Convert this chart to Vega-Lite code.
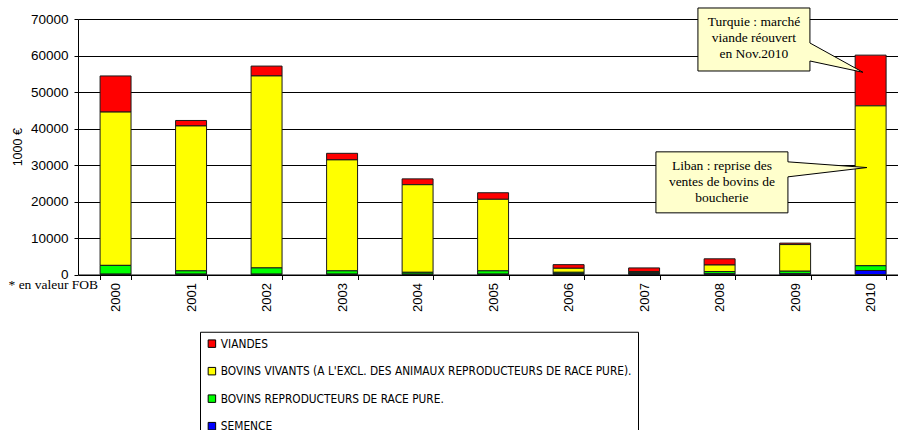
{
  "$schema": "https://vega.github.io/schema/vega-lite/v6.json",
  "width": 820,
  "height": 255.5,
  "autosize": {"type": "none"},
  "padding": {"left": 78, "top": 19, "right": 0, "bottom": 155.5},
  "background": "white",
  "config": {
    "view": {"stroke": null},
    "font": "Liberation Sans",
    "axis": {"labelFont": "Liberation Sans", "titleFont": "Liberation Sans", "labelColor": "#000", "titleColor": "#000"}
  },
  "datasets": {
    "bars": [
      {"year": "2000", "serie": "VIANDES", "k": 4, "value": 9900},
      {"year": "2000", "serie": "BOVINS VIVANTS (A L'EXCL. DES ANIMAUX REPRODUCTEURS DE RACE PURE).", "k": 3, "value": 42000},
      {"year": "2000", "serie": "BOVINS REPRODUCTEURS DE RACE PURE.", "k": 2, "value": 2400},
      {"year": "2000", "serie": "SEMENCE", "k": 1, "value": 100},
      {"year": "2001", "serie": "VIANDES", "k": 4, "value": 1500},
      {"year": "2001", "serie": "BOVINS VIVANTS (A L'EXCL. DES ANIMAUX REPRODUCTEURS DE RACE PURE).", "k": 3, "value": 39700},
      {"year": "2001", "serie": "BOVINS REPRODUCTEURS DE RACE PURE.", "k": 2, "value": 900},
      {"year": "2001", "serie": "SEMENCE", "k": 1, "value": 100},
      {"year": "2002", "serie": "VIANDES", "k": 4, "value": 2700},
      {"year": "2002", "serie": "BOVINS VIVANTS (A L'EXCL. DES ANIMAUX REPRODUCTEURS DE RACE PURE).", "k": 3, "value": 52600},
      {"year": "2002", "serie": "BOVINS REPRODUCTEURS DE RACE PURE.", "k": 2, "value": 1700},
      {"year": "2002", "serie": "SEMENCE", "k": 1, "value": 100},
      {"year": "2003", "serie": "VIANDES", "k": 4, "value": 1800},
      {"year": "2003", "serie": "BOVINS VIVANTS (A L'EXCL. DES ANIMAUX REPRODUCTEURS DE RACE PURE).", "k": 3, "value": 30400},
      {"year": "2003", "serie": "BOVINS REPRODUCTEURS DE RACE PURE.", "k": 2, "value": 900},
      {"year": "2003", "serie": "SEMENCE", "k": 1, "value": 100},
      {"year": "2004", "serie": "VIANDES", "k": 4, "value": 1600},
      {"year": "2004", "serie": "BOVINS VIVANTS (A L'EXCL. DES ANIMAUX REPRODUCTEURS DE RACE PURE).", "k": 3, "value": 24000},
      {"year": "2004", "serie": "BOVINS REPRODUCTEURS DE RACE PURE.", "k": 2, "value": 500},
      {"year": "2004", "serie": "SEMENCE", "k": 1, "value": 100},
      {"year": "2005", "serie": "VIANDES", "k": 4, "value": 1800},
      {"year": "2005", "serie": "BOVINS VIVANTS (A L'EXCL. DES ANIMAUX REPRODUCTEURS DE RACE PURE).", "k": 3, "value": 19600},
      {"year": "2005", "serie": "BOVINS REPRODUCTEURS DE RACE PURE.", "k": 2, "value": 900},
      {"year": "2005", "serie": "SEMENCE", "k": 1, "value": 100},
      {"year": "2006", "serie": "VIANDES", "k": 4, "value": 1000},
      {"year": "2006", "serie": "BOVINS VIVANTS (A L'EXCL. DES ANIMAUX REPRODUCTEURS DE RACE PURE).", "k": 3, "value": 1100},
      {"year": "2006", "serie": "BOVINS REPRODUCTEURS DE RACE PURE.", "k": 2, "value": 400},
      {"year": "2006", "serie": "SEMENCE", "k": 1, "value": 200},
      {"year": "2007", "serie": "VIANDES", "k": 4, "value": 1000},
      {"year": "2007", "serie": "BOVINS VIVANTS (A L'EXCL. DES ANIMAUX REPRODUCTEURS DE RACE PURE).", "k": 3, "value": 300},
      {"year": "2007", "serie": "BOVINS REPRODUCTEURS DE RACE PURE.", "k": 2, "value": 300},
      {"year": "2007", "serie": "SEMENCE", "k": 1, "value": 200},
      {"year": "2008", "serie": "VIANDES", "k": 4, "value": 1700},
      {"year": "2008", "serie": "BOVINS VIVANTS (A L'EXCL. DES ANIMAUX REPRODUCTEURS DE RACE PURE).", "k": 3, "value": 1800},
      {"year": "2008", "serie": "BOVINS REPRODUCTEURS DE RACE PURE.", "k": 2, "value": 600},
      {"year": "2008", "serie": "SEMENCE", "k": 1, "value": 200},
      {"year": "2009", "serie": "VIANDES", "k": 4, "value": 400},
      {"year": "2009", "serie": "BOVINS VIVANTS (A L'EXCL. DES ANIMAUX REPRODUCTEURS DE RACE PURE).", "k": 3, "value": 7300},
      {"year": "2009", "serie": "BOVINS REPRODUCTEURS DE RACE PURE.", "k": 2, "value": 700},
      {"year": "2009", "serie": "SEMENCE", "k": 1, "value": 200},
      {"year": "2010", "serie": "VIANDES", "k": 4, "value": 13900},
      {"year": "2010", "serie": "BOVINS VIVANTS (A L'EXCL. DES ANIMAUX REPRODUCTEURS DE RACE PURE).", "k": 3, "value": 43800},
      {"year": "2010", "serie": "BOVINS REPRODUCTEURS DE RACE PURE.", "k": 2, "value": 1300},
      {"year": "2010", "serie": "SEMENCE", "k": 1, "value": 1100}
    ],
    "turquie": [{"year": "2010", "value": 55400, "note": "Turquie : marché\nviande réouvert\nen Nov.2010"}],
    "liban": [{"year": "2010", "value": 29300, "note": "Liban : reprise des\nventes de bovins de\nboucherie"}]
  },
  "encoding": {
    "x": {
      "field": "year", "type": "nominal",
      "scale": {"domain": ["2000","2001","2002","2003","2004","2005","2006","2007","2008","2009","2010"], "paddingInner": 0.59, "paddingOuter": 0.225, "align": 0.65},
      "axis": {
        "title": "* en valeur FOB", "titleX": -70, "titleY": 10, "titleAlign": "left", "titleBaseline": "middle",
        "titleFont": "Liberation Serif", "titleFontSize": 13.5, "titleFontWeight": "normal",
        "labelAngle": -90, "labelFontSize": 13, "labelPadding": 3,
        "tickBand": "extent", "tickSize": 5, "tickColor": "#000", "domainColor": "#000", "grid": false
      }
    },
    "y": {
      "field": "value", "type": "quantitative",
      "scale": {"domain": [0, 70000], "nice": false},
      "axis": {
        "title": "1000 €", "titleFontSize": 12.5, "titleFontWeight": "normal", "titlePadding": 6,
        "values": [0, 10000, 20000, 30000, 40000, 50000, 60000, 70000], "format": "d",
        "labelFontSize": 13.5, "labelPadding": 6, "tickSize": 4, "tickColor": "#000",
        "domainColor": "#000", "grid": true, "gridColor": "#000", "gridWidth": 1.2
      }
    }
  },
  "layer": [
    {
      "data": {"name": "bars"},
      "mark": {"type": "bar", "stroke": "#1a1a1a", "strokeWidth": 1},
      "encoding": {
        "color": {
          "field": "serie", "type": "nominal",
          "scale": {
            "domain": ["VIANDES", "BOVINS VIVANTS (A L'EXCL. DES ANIMAUX REPRODUCTEURS DE RACE PURE).", "BOVINS REPRODUCTEURS DE RACE PURE.", "SEMENCE"],
            "range": ["#FF0000", "#FFFF00", "#00FF00", "#0000FF"]
          },
          "legend": {
            "title": null, "orient": "none", "legendX": 122, "legendY": 312.75,
            "symbolType": "square", "symbolSize": 56, "symbolStrokeColor": "#000", "symbolStrokeWidth": 1,
            "labelFont": "DejaVu Sans Condensed, Liberation Sans", "labelFontSize": 11.8, "labelColor": "#000", "labelOffset": 3, "labelLimit": 800,
            "rowPadding": 14.5, "padding": 6, "strokeColor": "#000", "fillColor": "#fff"
          }
        },
        "order": {"field": "k", "type": "quantitative", "sort": "ascending"}
      }
    },
    {
      "data": {"name": "turquie"},
      "mark": {"type": "point", "filled": true, "opacity": 1, "size": 4, "fill": "#FFFFCC", "stroke": "#000", "strokeWidth": 1,
        "shape": "M-172.7,-64.3L-60.7,-64.3L-60.7,-29.3L-7.7,0L-60.7,-11.3L-60.7,-1.3L-172.7,-1.3Z"}
    },
    {
      "data": {"name": "liban"},
      "mark": {"type": "point", "filled": true, "opacity": 1, "size": 4, "fill": "#FFFFCC", "stroke": "#000", "strokeWidth": 1,
        "shape": "M-214.7,-15.7L-82.7,-15.7L-82.7,-5.7L-3.7,0L-82.7,9.3L-82.7,45.3L-214.7,45.3Z"}
    },
    {
      "data": {"name": "turquie"},
      "mark": {"type": "text", "font": "Liberation Serif", "fontSize": 13.5, "color": "#000", "lineBreak": "\n", "lineHeight": 16, "align": "center", "baseline": "middle", "dx": -116.7, "dy": -50.4},
      "encoding": {"text": {"field": "note", "type": "nominal"}}
    },
    {
      "data": {"name": "liban"},
      "mark": {"type": "text", "font": "Liberation Serif", "fontSize": 13.5, "color": "#000", "lineBreak": "\n", "lineHeight": 16, "align": "center", "baseline": "middle", "dx": -148.7, "dy": -1.6},
      "encoding": {"text": {"field": "note", "type": "nominal"}}
    }
  ]
}
